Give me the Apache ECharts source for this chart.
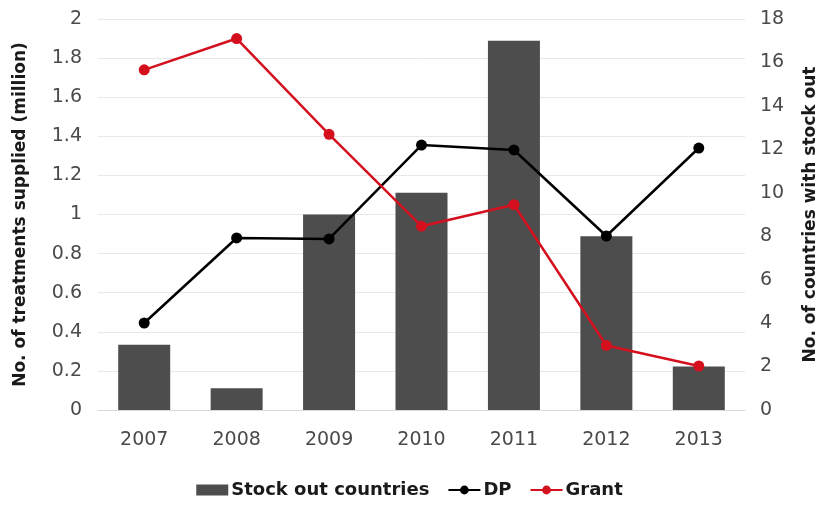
<!DOCTYPE html>
<html><head><meta charset="utf-8">
<script src="https://cdn.jsdelivr.net/npm/echarts@6/dist/echarts.min.js"></script>
<style>html,body{margin:0;padding:0;background:#fff}#c{width:819px;height:506px}</style>
</head><body><div id="c"></div>
<script>
const years = ['2007','2008','2009','2010','2011','2012','2013'];
const stockOut = [3, 1, 9, 10, 17, 8, 2];
const dp = [0.445, 0.88, 0.875, 1.355, 1.33, 0.89, 1.34];
const grant = [1.74, 1.90, 1.41, 0.94, 1.05, 0.33, 0.225];

const font = 'DejaVu Sans';
const chart = echarts.init(document.getElementById('c'));
chart.setOption({
  animation: false,
  grid: {left: 98, right: 74, top: 19, bottom: 96, containLabel: false, outerBoundsMode: 'none'},
  legend: {
    bottom: 2, left: 'center', itemGap: 18, itemWidth: 32, itemHeight: 11,
    textStyle: {fontFamily: font, fontSize: 18, color: '#1a1a1a', fontWeight: 'bold', padding: [0,0,0,-2]},
    data: [
      {name: 'Stock out countries', icon: 'rect'},
      {name: 'DP'},
      {name: 'Grant'}
    ]
  },
  xAxis: {
    type: 'category', data: years,
    axisLine: {lineStyle: {color: '#d9d9d9'}},
    axisTick: {show: false},
    axisLabel: {fontFamily: font, fontSize: 19, color: '#4a4a4a', margin: 21}
  },
  yAxis: [
    {type: 'value', min: 0, max: 2, interval: 0.2,
     name: 'No. of treatments supplied (million)', nameLocation: 'middle', nameGap: 69,
     nameTextStyle: {fontFamily: font, fontSize: 17, fontWeight: 'bold', color: '#1a1a1a'},
     axisLabel: {fontFamily: font, fontSize: 19, color: '#4a4a4a', margin: 16,
       formatter: v => String(Math.round(v*10)/10)},
     splitLine: {lineStyle: {color: '#e8e8e8'}}, axisLine: {show: false}, axisTick: {show: false}},
    {type: 'value', min: 0, max: 18, interval: 2,
     name: 'No. of countries with stock out', nameLocation: 'middle', nameGap: 57,
     nameTextStyle: {fontFamily: font, fontSize: 17, fontWeight: 'bold', color: '#1a1a1a'},
     axisLabel: {fontFamily: font, fontSize: 19, color: '#4a4a4a', margin: 15},
     splitLine: {show: false}, axisLine: {show: false}, axisTick: {show: false}}
  ],
  series: [
    {name: 'Stock out countries', type: 'bar', yAxisIndex: 1, data: stockOut,
     barWidth: 52, itemStyle: {color: '#4d4d4d'}},
    {name: 'DP', type: 'line', yAxisIndex: 0, data: dp, symbol: 'circle', symbolSize: 11,
     itemStyle: {color: '#000'}, lineStyle: {color: '#000', width: 2.5}},
    {name: 'Grant', type: 'line', yAxisIndex: 0, data: grant, symbol: 'circle', symbolSize: 11,
     itemStyle: {color: '#d4101e'}, lineStyle: {color: '#d4101e', width: 2.5}}
  ]
});
</script></body></html>
